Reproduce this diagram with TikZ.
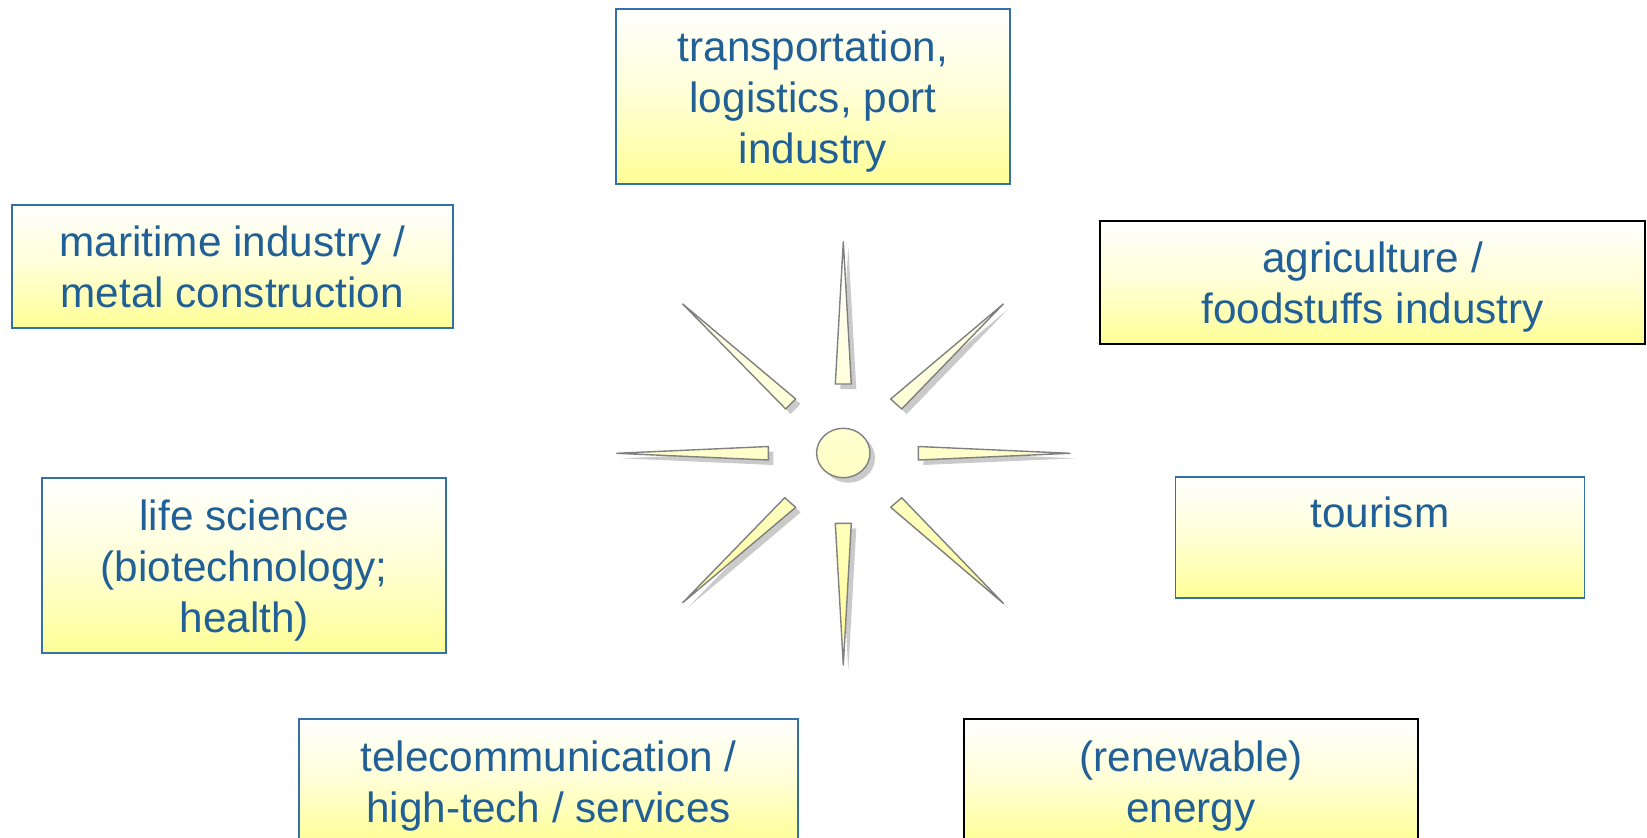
\documentclass[tikz,border=0pt]{standalone}
\usepackage{fontspec}
\setmainfont{Liberation Sans}
\definecolor{boxblue}{RGB}{52,112,170}
\definecolor{txtblue}{RGB}{33,96,150}
\definecolor{raygray}{RGB}{128,128,128}
\definecolor{paleyel}{RGB}{255,255,150}
\newcommand\lstrut{\rule[-10.2pt]{0pt}{51pt}}
\tikzset{
  sector/.style={draw=#1, line width=1.6pt, inner sep=0pt, align=center,
    text=txtblue, font=\fontsize{42.3}{51}\selectfont,
    top color=white, bottom color=paleyel, middle color=white!60!paleyel},
  sector/.default=boxblue,
  rayline/.style={draw=raygray, line width=1.4pt, line join=round},
  rayshadow/.style={fill=black!35, opacity=0.6}
}
\begin{document}
\begin{tikzpicture}[x=1pt,y=-1pt]
\useasboundingbox (0,0) rectangle (1647,838);
\clip (0,0) rectangle (1647,838);

% boxes
\node[sector, minimum width=394pt, minimum height=175pt] (trans) at (813,96.7)
  {\lstrut transportation,\\\lstrut logistics, port\\\lstrut industry};
\node[sector, minimum width=441pt, minimum height=123pt] (mari) at (232.2,266.5)
  {\lstrut maritime industry /\\\lstrut metal construction};
\node[sector=black, minimum width=545pt, minimum height=123pt] (agri) at (1372.5,282.5)
  {\lstrut agriculture /\\\lstrut foodstuffs industry};
\node[sector, minimum width=404pt, minimum height=175pt] (life) at (244.2,565.7)
  {\lstrut life science\\\lstrut (biotechnology;\\\lstrut health)};
\node[sector, minimum width=409pt, minimum height=121pt] (tour) at (1380,537.7)
  {\lstrut tourism\\\lstrut};
\node[sector, minimum width=499pt, minimum height=125pt] (tele) at (548.6,781.5)
  {\lstrut telecommunication /\\\lstrut high-tech / services};
\node[sector=black, minimum width=454pt, minimum height=125pt] (ener) at (1191,781.5)
  {\lstrut (renewable)\\\lstrut energy};

% sun shapes
\def\sunshapes{%
  (843.3,241.7) -- (851.3,384) -- (835.3,384) -- cycle
  (835.3,523.3) -- (851.3,523.3) -- (843.3,665) -- cycle
  (616.7,453.3) -- (768.3,446.5) -- (768.3,460) -- cycle
  (1070,453.3) -- (918.3,446.5) -- (918.3,460) -- cycle
  (682.7,304) -- (795.7,399) -- (785.7,409) -- cycle
  (1003.3,304) -- (890.7,399) -- (901.7,409) -- cycle
  (682.7,602.7) -- (784.7,497.7) -- (795.7,507.3) -- cycle
  (1003.3,603.3) -- (890.7,507.3) -- (901.7,497.7) -- cycle
  (843.3,453) ellipse [x radius=26.7, y radius=24.7]}
\fill[rayshadow, shift={(5,5)}] \sunshapes;
\begin{scope}
  \clip \sunshapes;
  \shade[top color=white, bottom color=paleyel] (600,235) rectangle (1090,670);
\end{scope}
\draw[rayline] \sunshapes;
\end{tikzpicture}
\end{document}
